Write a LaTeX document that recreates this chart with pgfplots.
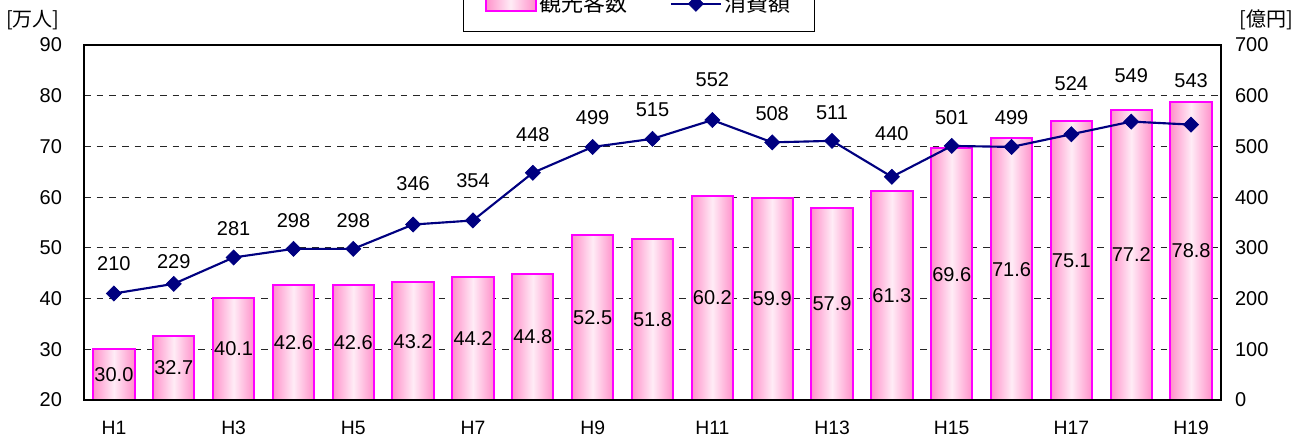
\documentclass[border=0pt]{standalone}
\usepackage{pgfplots}
\pgfplotsset{compat=1.18}
\usepackage{pgfplotstable}
\usepackage{fontspec}
\setmainfont{Liberation Sans}
\newfontfamily\cjk{Noto Sans CJK JP}
\definecolor{navyc}{RGB}{0,0,128}
\definecolor{magc}{RGB}{255,0,255}
\definecolor{pinkE}{RGB}{255,145,202}
\definecolor{pinkM}{RGB}{255,236,246}
\newcommand\fs{\fontsize{15pt}{18pt}\selectfont}
\newcommand\fx{\fontsize{14.5pt}{17pt}\selectfont}
\pgfplotsset{
  lineleg/.style={legend image code/.code={\draw[mark repeat=2, mark phase=2, ##1] plot coordinates {(0pt,0pt) (18.75pt,0pt) (37.5pt,0pt)};}},
  barleg/.style={legend image code/.code={\draw[draw=magc, line width=1.5pt, left color=pinkE, right color=pinkE, middle color=pinkM] (0pt,-5.5pt) rectangle (37.5pt,5.5pt);}},
  base/.style={
    scale only axis, width=852.75pt, height=266.25pt,
    xmin=-0.5, xmax=18.5,
    major tick length=0pt,
    axis line style={line width=1.5pt},
    /pgf/number format/assume math mode=true,
    clip=false,
  }
}
\pgfplotstableread{
x v ly lab
0 30.0 25.00 30.0
1 32.7 26.35 32.7
2 40.1 30.05 40.1
3 42.6 31.30 42.6
4 42.6 31.30 42.6
5 43.2 31.60 43.2
6 44.2 32.10 44.2
7 44.8 32.40 44.8
8 52.5 36.25 52.5
9 51.8 35.90 51.8
10 60.2 40.10 60.2
11 59.9 39.95 59.9
12 57.9 38.95 57.9
13 61.3 40.65 61.3
14 69.6 44.80 69.6
15 71.6 45.80 71.6
16 75.1 47.55 75.1
17 77.2 48.60 77.2
18 78.8 49.40 78.8
}\bars
\pgfplotstableread{
x v ly
0 210 268
1 229 272
2 281 337
3 298 353
4 298 353
5 346 426
6 354 432
7 448 524
8 499 556
9 515 572
10 552 631
11 508 564
12 511 566
13 440 526
14 501 556
15 499 556
16 524 623
17 549 639
18 543 629
}\spend
\begin{document}
\begin{tikzpicture}
\begin{axis}[base,
  ymin=20, ymax=90, ytick={20,30,...,90},
  xtick={0,2,...,18},
  xticklabels={H1,H3,H5,H7,H9,H11,H13,H15,H17,H19},
  ymajorgrids,
  major grid style={black!85, dash pattern=on 5pt off 4.5pt, line width=0.7pt},
  yticklabel style={font=\fs, xshift=-13pt},
  xticklabel style={font=\fx, yshift=-12.5pt},
]
\pgfplotsinvokeforeach{0,...,18}{
\addplot[ybar, bar width=0.69, bar shift=0pt, draw=magc, line width=1.5pt,
  left color=pinkE, right color=pinkE, middle color=pinkM,
  restrict x to domain=#1:#1]
  table[x=x, y=v] {\bars};
}
\addplot[draw=none, nodes near coords, point meta=explicit symbolic,
  every node near coord/.append style={anchor=center, font=\fs, text=black}]
  table[x=x, y=ly, meta=lab] {\bars};
\end{axis}
\begin{axis}[base,
  ymin=0, ymax=700, ytick={0,100,...,700},
  yticklabel pos=right,
  xtick=\empty,
  yticklabel style={font=\fs, xshift=7pt},
  legend columns=2,
  legend style={at={(0.4881,1.0366)}, anchor=south, draw=black, line width=1pt,
    font=\cjk\fontsize{16.5pt}{20pt}\selectfont,
    inner xsep=16pt, inner ysep=11pt,
    /tikz/every even column/.append style={column sep=30pt}},
]
\addlegendimage{barleg}
\addlegendentry{観光客数}
\addplot[navyc, line width=1.6pt, mark=square*, mark size=4pt,
  mark options={rotate=45, fill=navyc, draw=navyc, line width=0.5pt}, lineleg]
  table[x=x, y=v] {\spend};
\addlegendentry{消費額}
\addplot[draw=none, nodes near coords, point meta=explicit symbolic, forget plot,
  every node near coord/.append style={anchor=center, font=\fs, text=black}]
  table[x=x, y=ly, meta=v] {\spend};
\end{axis}
\node[font=\cjk\fontsize{15pt}{18pt}\selectfont] at (-38.25pt,285pt) {[万人]};
\node[font=\cjk\fontsize{15pt}{18pt}\selectfont] at (886.5pt,285pt) {[億円]};
\pgfresetboundingbox
\path[use as bounding box] (-63pt,-28.5pt) rectangle (910.5pt,300pt);
\end{tikzpicture}
\end{document}
